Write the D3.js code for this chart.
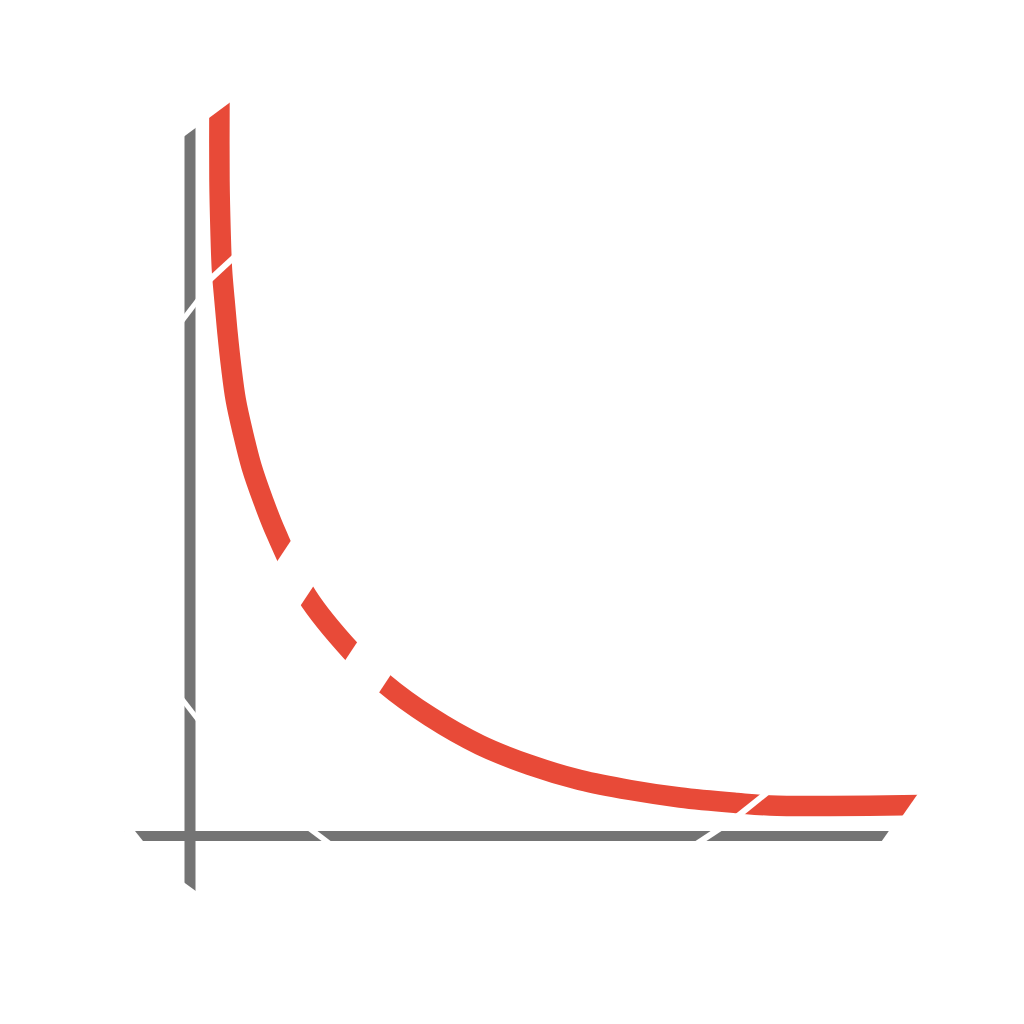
<!DOCTYPE html>
<html lang="en">
<head>
  <meta charset="utf-8">
  <title>decay curve</title>
  <style>
    * { margin: 0; padding: 0; }
    body { background: #ffffff; }
    svg { display: block; }
  </style>
  <script src="https://cdn.jsdelivr.net/npm/d3@7/dist/d3.min.js"></script>
</head>
<body>
  <div id="contents"></div>
  <script>
    // curve values (x, y), axis units 0..100
    const curveX = [4.21, 4.21, 4.36, 4.57, 4.93, 5.36, 5.89, 6.54, 7.57, 8.81, 10.43, 12.29,
                    16.71, 23.0, 27.86, 34.29, 41.43, 48.57, 55.71, 62.86, 70.0, 78.14, 82.86, 91.43, 104.29];
    const curveY = [105.71, 93.71, 86.57, 80.86, 76.57, 71.86, 67.0, 62.29, 57.57, 52.71, 48.0, 43.29,
                    34.29, 26.43, 21.71, 17.04, 13.0, 10.14, 8.0, 6.57, 5.5, 4.71, 4.36, 4.29, 4.43];

    // axis extents (data units), a little past the cuts at both ends
    const xAxisExtent = [-9.3, 101.4];
    const yAxisExtent = [-9.1, 102.3];

    // white knock-out strokes: [x1, y1, x2, y2] in data units, plus stroke width
    const cuts = [
      [[-3.0, 100.1, 6.29, 107.0], 20],    // top ends
      [[2.86, 79.5, 6.43, 82.81], 6],      // red, upper
      [[-1.14, 73.59, 1.14, 76.56], 5],    // y axis, upper
      [[-1.14, 19.57, 1.29, 16.43], 5],    // y axis, lower
      [[-2.39, -6.93, 1.19, -9.53], 16],   // y axis bottom end
      [[-9.32, 0.71, -7.04, -2.14], 16],   // x axis left end
      [[16.56, 1.46, 20.23, -1.31], 5.5],  // x axis, left cut
      [[72.29, -1.19, 75.86, 1.19], 6],    // x axis, right cut
      [[78.11, 2.74, 82.67, 6.39], 6],     // red, lower cut
      [[102.46, 1.37, 105.6, 5.87], 20],   // red right end
      [[98.94, -2.56, 101.8, 1.53], 16],   // x axis right end
      [[12.54, 33.69, 17.26, 40.8], 44],   // red gap 1
      [[23.07, 20.51, 27.79, 27.64], 46]   // red gap 2
    ];

    const W = 1024, H = 1024;
    const red = "#e84a38";
    const gray = "#747474";

    const svg = d3.select("#contents")
                  .append("svg")
                  .attr("width", W)
                  .attr("height", H);

    const x = d3.scaleLinear().domain([0, 100]).range([190, 890]);
    const y = d3.scaleLinear().domain([0, 100]).range([836, 136]);

    const data = curveX.map((d, i) => ({x: d, y: curveY[i]}));

    // axes
    svg.append("line")
       .attr("x1", x(0)).attr("x2", x(0))
       .attr("y1", y(yAxisExtent[0])).attr("y2", y(yAxisExtent[1]))
       .style("stroke", gray)
       .style("stroke-width", 11);
    svg.append("line")
       .attr("x1", x(xAxisExtent[0])).attr("x2", x(xAxisExtent[1]))
       .attr("y1", y(0)).attr("y2", y(0))
       .style("stroke", gray)
       .style("stroke-width", 10);

    // curve
    const line = d3.line()
                   .x(d => x(d.x))
                   .y(d => y(d.y))
                   .curve(d3.curveCatmullRom.alpha(0.5));
    svg.append("path")
       .datum(data)
       .attr("d", line)
       .style("fill", "none")
       .style("stroke", red)
       .style("stroke-width", 20.5);

    // knock-outs
    svg.append("g")
       .selectAll("line")
       .data(cuts)
       .enter()
       .append("line")
       .attr("x1", d => x(d[0][0]))
       .attr("y1", d => y(d[0][1]))
       .attr("x2", d => x(d[0][2]))
       .attr("y2", d => y(d[0][3]))
       .style("stroke", "#ffffff")
       .style("stroke-width", d => d[1]);
  </script>
</body>
</html>
